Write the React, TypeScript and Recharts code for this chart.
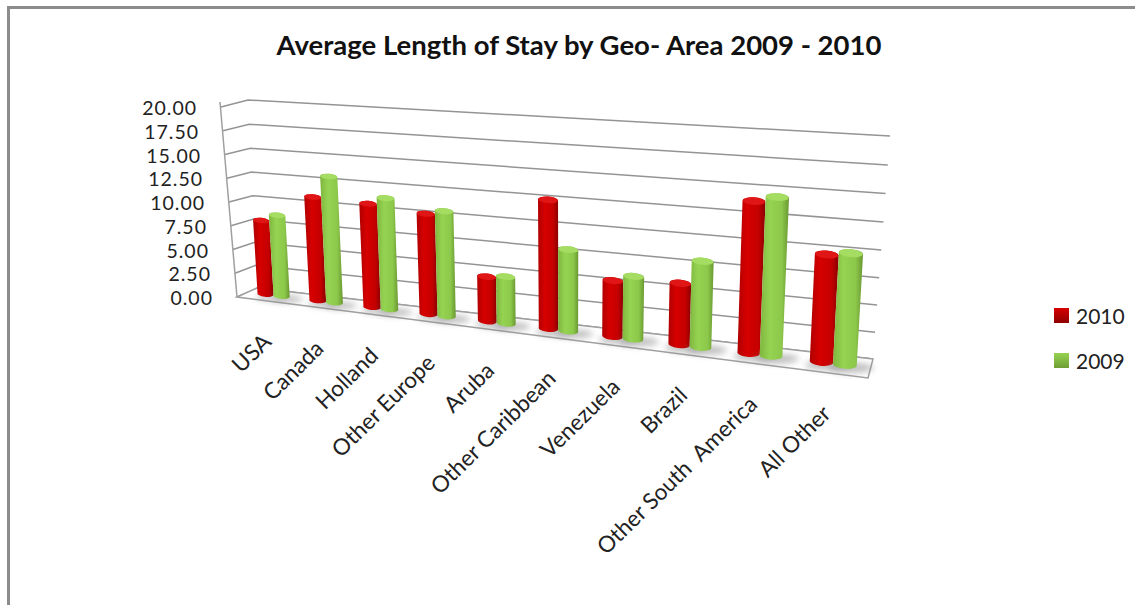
import React from 'react';
import { BarChart, Bar, XAxis, YAxis, CartesianGrid, Legend } from 'recharts';

const categories = [
  'USA', 'Canada', 'Holland', 'Other Europe', 'Aruba',
  'Other Caribbean', 'Venezuela', 'Brazil', 'Other South  America', 'All Other',
];
const values2010 = [7.8, 10.7, 10.5, 10.0, 4.4, 12.3, 5.3, 5.7, 13.6, 9.5];
const values2009 = [8.5, 12.9, 11.2, 10.4, 4.6, 7.8, 5.9, 7.9, 14.1, 9.8];
const yTicks = [0, 2.5, 5, 7.5, 10, 12.5, 15, 17.5, 20];

const data = categories.map((name, i) => ({
  name,
  y2010: values2010[i],
  y2009: values2009[i],
}));

const WIDTH = 1135;
const HEIGHT = 605;
const FONT = 'Lato, sans-serif';

// flat plot rectangle that recharts lays everything out in
const PLOT = { left: 240, top: 100, width: 640, height: 300 };

type Pt = [number, number];

// unit square -> quad, order is bottom-left, bottom-right, top-right, top-left
function makeProjection(p0: Pt, p1: Pt, p2: Pt, p3: Pt) {
  const dx1 = p1[0] - p2[0];
  const dx2 = p3[0] - p2[0];
  const sx = p0[0] - p1[0] + p2[0] - p3[0];
  const dy1 = p1[1] - p2[1];
  const dy2 = p3[1] - p2[1];
  const sy = p0[1] - p1[1] + p2[1] - p3[1];
  const den = dx1 * dy2 - dx2 * dy1;
  const g = (sx * dy2 - dx2 * sy) / den;
  const h = (dx1 * sy - sx * dy1) / den;
  const a = p1[0] - p0[0] + g * p1[0];
  const b = p3[0] - p0[0] + h * p3[0];
  const d = p1[1] - p0[1] + g * p1[1];
  const e = p3[1] - p0[1] + h * p3[1];
  return (px: number, py: number): Pt => {
    const u = (px - PLOT.left) / PLOT.width;
    const v = (PLOT.top + PLOT.height - py) / PLOT.height;
    const w = g * u + h * v + 1;
    return [(a * u + b * v + p0[0]) / w, (d * u + e * v + p0[1]) / w];
  };
}

// plane the bars stand on, halfway between the front edge and the back wall
const barPlane = makeProjection([248, 292], [871, 368], [885, 133], [236, 100]);
const backWall = makeProjection([257, 288], [873, 359], [890, 136], [248, 100]);

const flatV = (y: number) => (PLOT.top + PLOT.height - y) / PLOT.height;
const frontX = (y: number) => 237 + (221 - 237) * flatV(y);
const frontY = (y: number) => 297 + (107 - 297) * flatV(y);

const GRID_COLOR = '#949494';

function GridLine(props: any) {
  const y = props.y1;
  const back = backWall(PLOT.left, y);
  const right = backWall(PLOT.left + PLOT.width, y);
  return (
    <polyline
      key={props.key ?? `grid-${y}`}
      points={`${frontX(y)},${frontY(y)} ${back[0]},${back[1]} ${right[0]},${right[1]}`}
      fill="none"
      stroke={GRID_COLOR}
      strokeWidth={1.5}
    />
  );
}

function XTick({ payload }: any) {
  const [bx, by] = barPlane(payload.coordinate, PLOT.top + PLOT.height);
  const u = (payload.coordinate - PLOT.left) / PLOT.width;
  const ax = bx - 1;
  const ay = by + 48 + 4 * u;
  return (
    <text
      x={ax}
      y={ay}
      textAnchor="end"
      fontFamily={FONT}
      fontSize={22.5}
      fill="#222"
      style={{ whiteSpace: 'pre' }}
      transform={`rotate(-44.5 ${ax} ${ay})`}
    >
      {payload.value}
    </text>
  );
}

function YTick({ y, payload }: any) {
  return (
    <text
      x={frontX(y) - 24}
      y={frontY(y) + 8}
      textAnchor="end"
      fontFamily={FONT}
      fontSize={19.5}
      letterSpacing={1}
      fill="#222"
    >
      {payload.value.toFixed(2)}
    </text>
  );
}

function Cylinder(props: any) {
  const { x, y, width, height, gradient, cap } = props;
  const bl = barPlane(x, y + height);
  const br = barPlane(x + width, y + height);
  const tl = barPlane(x, y);
  const tr = barPlane(x + width, y);
  const rx = Math.hypot(br[0] - bl[0], br[1] - bl[1]) / 2;
  const ry = rx * 0.33;
  const angle = (Math.atan2(tr[1] - tl[1], tr[0] - tl[0]) * 180) / Math.PI;
  const arc = `${rx} ${ry} ${angle}`;
  return (
    <g>
      <ellipse
        cx={(bl[0] + br[0]) / 2 + 6}
        cy={(bl[1] + br[1]) / 2 + 3}
        rx={rx * 1.9}
        ry={ry * 1.3}
        fill="#8a8a8a"
        opacity={0.55}
        filter="url(#floorBlur)"
      />
      <path
        d={`M${tl[0]},${tl[1]} L${bl[0]},${bl[1]} A${arc} 0 0 ${br[0]},${br[1]} L${tr[0]},${tr[1]} A${arc} 0 0 ${tl[0]},${tl[1]} Z`}
        fill={`url(#${gradient})`}
      />
      <ellipse
        cx={(tl[0] + tr[0]) / 2}
        cy={(tl[1] + tr[1]) / 2}
        rx={rx}
        ry={ry}
        fill={cap}
        transform={`rotate(${angle} ${(tl[0] + tr[0]) / 2} ${(tl[1] + tr[1]) / 2})`}
      />
    </g>
  );
}

function LegendBox({ payload }: any) {
  return (
    <div style={{ fontFamily: FONT, fontSize: 21, color: '#222' }}>
      {(payload || []).map((entry: any) => (
        <div key={entry.value} style={{ display: 'flex', alignItems: 'center', height: 45 }}>
          <span
            style={{
              width: 15,
              height: 15,
              marginRight: 7,
              background: `linear-gradient(${entry.color}, ${entry.value === '2010' ? '#8f0000' : '#6f9e35'})`,
            }}
          />
          {entry.value}
        </div>
      ))}
    </div>
  );
}

export default function App() {
  return (
    <div style={{ position: 'absolute', left: 0, top: 0, width: WIDTH, height: HEIGHT, overflow: 'hidden', background: '#fff' }}>
      <div
        style={{
          position: 'absolute',
          left: 7,
          top: 6,
          width: WIDTH,
          height: HEIGHT,
          borderLeft: '3px solid #8c8c8c',
          borderTop: '3px solid #8c8c8c',
        }}
      />
      <div style={{ position: 'absolute', left: 0, top: 0 }}>
        <BarChart
          width={WIDTH}
          height={HEIGHT}
          data={data}
          margin={{ top: PLOT.top, left: 0, right: WIDTH - PLOT.left - PLOT.width, bottom: HEIGHT - PLOT.top - PLOT.height - 5 }}
          barCategoryGap={13}
          barGap={0}
        >
          <defs>
            <linearGradient id="red" x1="0" y1="0" x2="1" y2="0">
              <stop offset="0%" stopColor="#b00000" />
              <stop offset="35%" stopColor="#d60000" />
              <stop offset="75%" stopColor="#c40000" />
              <stop offset="100%" stopColor="#8a0000" />
            </linearGradient>
            <linearGradient id="green" x1="0" y1="0" x2="1" y2="0">
              <stop offset="0%" stopColor="#7fb63f" />
              <stop offset="35%" stopColor="#95d352" />
              <stop offset="75%" stopColor="#8cc84a" />
              <stop offset="100%" stopColor="#6a9832" />
            </linearGradient>
            <filter id="floorBlur" x="-50%" y="-100%" width="200%" height="300%">
              <feGaussianBlur stdDeviation="3" />
            </filter>
          </defs>
          <text x={579} y={55} textAnchor="middle" fontFamily={FONT} fontWeight={700} fontSize={27.5} fill="#111">
            Average Length of Stay by Geo- Area 2009 - 2010
          </text>
          <polygon points="237,297 257,288 873,359 868,378" fill="#fff" stroke="#a0a0a0" strokeWidth={1.5} />
          <line x1={220} y1={102} x2={237} y2={297} stroke="#a0a0a0" strokeWidth={1.5} />
          <CartesianGrid vertical={false} horizontal={GridLine} />
          <XAxis dataKey="name" interval={0} height={5} axisLine={false} tickLine={false} tick={XTick} />
          <YAxis width={PLOT.left} domain={[0, 20]} ticks={yTicks} axisLine={false} tickLine={false} tick={YTick} />
          <Legend
            content={LegendBox}
            layout="vertical"
            align="center"
            verticalAlign="middle"
            itemSorter={null}
            wrapperStyle={{ left: 1054, top: 293, width: 80 }}
          />
          <Bar
            dataKey="y2010"
            name="2010"
            fill="#d60000"
            barSize={20}
            isAnimationActive={false}
            shape={(p: any) => <Cylinder {...p} gradient="red" cap="#e01515" />}
          />
          <Bar
            dataKey="y2009"
            name="2009"
            fill="#95d352"
            barSize={20}
            isAnimationActive={false}
            shape={(p: any) => <Cylinder {...p} gradient="green" cap="#a5dc62" />}
          />
        </BarChart>
      </div>
    </div>
  );
}
